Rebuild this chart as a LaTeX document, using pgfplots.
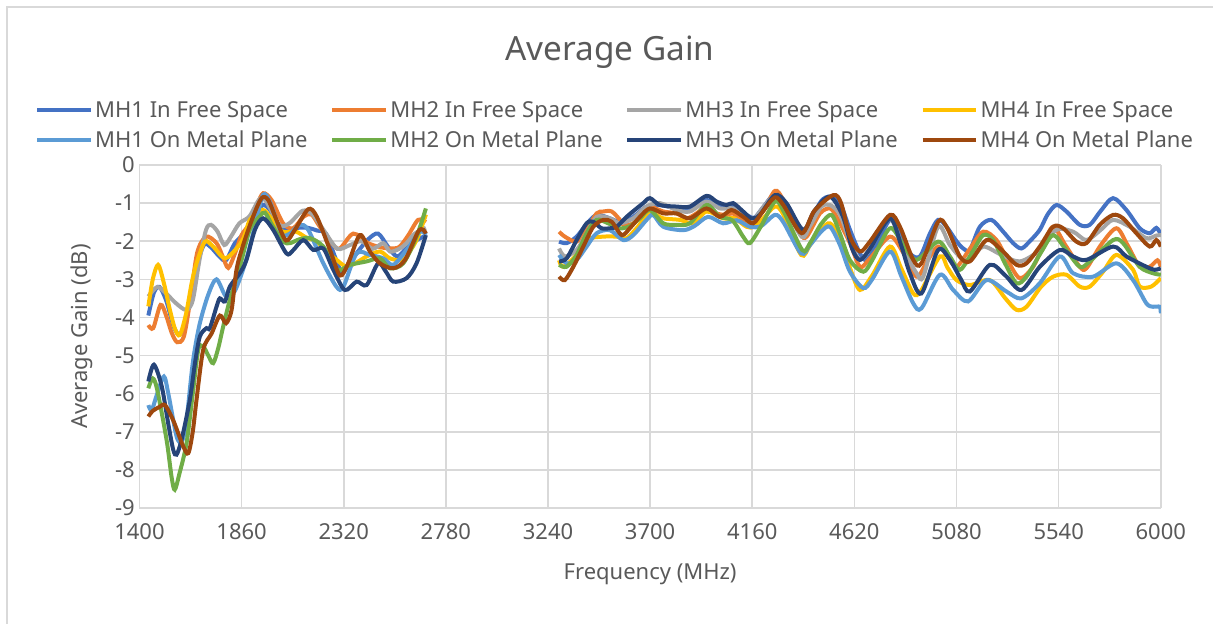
\documentclass[border=0pt]{standalone}
\usepackage{fontspec}
\setmainfont{Noto Sans}
\usepackage{pgfplots}
\pgfplotsset{compat=1.18}

\definecolor{txt}{HTML}{595959}
\definecolor{gridc}{HTML}{D9D9D9}
\definecolor{cA}{HTML}{4472C4}
\definecolor{cB}{HTML}{ED7D31}
\definecolor{cC}{HTML}{A5A5A5}
\definecolor{cD}{HTML}{FFC000}
\definecolor{cE}{HTML}{5B9BD5}
\definecolor{cF}{HTML}{70AD47}
\definecolor{cG}{HTML}{264478}
\definecolor{cH}{HTML}{9E480E}

\pgfplotsset{
  ser/.style={color=#1, line width=3pt, smooth, no marks},
}

\begin{document}
\begin{tikzpicture}[x=1pt,y=1pt]
\useasboundingbox (0,0) rectangle (909.75,468);
\draw[gridc, line width=1.2pt] (5.25,-5) -- (5.25,462.75) -- (915,462.75);
\node[txt, font=\fontsize{25}{30}\selectfont] at (457.5,429) {Average Gain};

\begin{axis}[
    at={(104.6pt,87pt)}, anchor=south west,
    scale only axis, width=766pt, height=257.25pt,
    xmin=1400, xmax=6000, ymin=-9, ymax=0,
    xtick={1400,1860,2320,2780,3240,3700,4160,4620,5080,5540,6000},
    xticklabels={1400,1860,2320,2780,3240,3700,4160,4620,5080,5540,6000},
    ytick={-9,-8,-7,-6,-5,-4,-3,-2,-1,0},
    yticklabels={-9,-8,-7,-6,-5,-4,-3,-2,-1,0},
    grid=major,
    major grid style={gridc, line width=1.2pt},
    axis line style={draw=none},
    tick style={draw=none},
    ticklabel style={font=\fontsize{16.5}{20}\selectfont, text=txt},
    xticklabel style={yshift=-8pt},
    xlabel={Frequency (MHz)},
    ylabel={Average Gain (dB)},
    label style={font=\fontsize{16.5}{20}\selectfont, text=txt},
    xlabel style={at={(axis description cs:0.5,-0.1924)}, anchor=center},
    ylabel style={at={(axis description cs:-0.0563,0.5)}, anchor=center},
    unbounded coords=jump,
    legend columns=4,
    legend style={at={(axis description cs:0.466,1.116)}, anchor=center,
        draw=none, fill=none, font=\fontsize{16.5}{20}\selectfont, text=txt,
        row sep=4.5pt,
        /tikz/every even column/.append style={column sep=15pt}},
    legend image code/.code={\draw[#1, line width=3pt] (0pt,0pt) -- (40pt,0pt);},
    legend cell align=left,
]

\addplot[ser=cA] coordinates {
(1440,-3.95)(1465,-3.35)(1490,-3.2)(1520,-3.55)(1555,-4.25)(1582,-4.45)(1610,-4.05)(1650,-2.8)(1690,-2.1)(1720,-2.15)(1760,-2.4)(1790,-2.5)(1830,-2.05)(1880,-1.75)(1920,-1.4)(1955,-1.05)(1990,-1.2)(2030,-1.6)(2070,-1.7)(2110,-1.65)(2160,-1.65)(2200,-1.72)(2240,-1.8)(2280,-2.4)(2310,-2.8)(2340,-2.65)(2380,-2.3)(2430,-1.95)(2475,-1.8)(2520,-2.15)(2560,-2.4)(2600,-2.2)(2640,-2.0)(2690,-1.85)
(3000,nan)
(3290,-2.01)(3324,-2.05)(3369,-1.88)(3414,-1.55)(3459,-1.31)(3519,-1.4)(3564,-1.49)(3624,-1.36)(3684,-1.09)(3744,-1.05)(3819,-1.14)(3879,-1.14)(3954,-0.92)(3999,-1.05)(4074,-1.09)(4134,-1.31)(4170,-1.38)(4210,-1.1)(4262,-0.75)(4300,-0.95)(4380,-1.75)(4420,-1.5)(4470,-0.95)(4510,-0.83)(4555,-1.0)(4600,-1.7)(4645,-2.32)(4675,-2.49)(4720,-2.1)(4780,-1.44)(4825,-1.8)(4870,-2.32)(4915,-2.4)(4960,-1.8)(4997,-1.44)(5035,-1.62)(5080,-2.0)(5110,-2.19)(5140,-2.23)(5185,-1.62)(5237,-1.44)(5290,-1.75)(5335,-2.05)(5372,-2.19)(5410,-2.0)(5455,-1.7)(5490,-1.3)(5530,-1.05)(5575,-1.22)(5635,-1.57)(5680,-1.57)(5730,-1.2)(5785,-0.87)(5845,-1.18)(5905,-1.66)(5950,-1.79)(5980,-1.65)(6000,-1.82)
};
\addlegendentry{MH1 In Free Space}

\addplot[ser=cB] coordinates {
(1440,-4.2)(1462,-4.28)(1495,-3.67)(1520,-3.95)(1545,-4.4)(1570,-4.65)(1600,-4.5)(1630,-3.5)(1660,-2.3)(1700,-1.88)(1747,-2.05)(1775,-2.4)(1800,-2.7)(1830,-2.32)(1860,-1.84)(1897,-1.53)(1930,-1.05)(1957,-0.74)(1995,-0.92)(2047,-1.53)(2092,-1.66)(2140,-1.35)(2175,-1.3)(2210,-1.6)(2260,-2.0)(2300,-2.2)(2363,-1.8)(2430,-2.05)(2480,-2.15)(2528,-2.19)(2570,-2.15)(2610,-1.85)(2655,-1.44)(2690,-1.5)
(3000,nan)
(3290,-1.75)(3316,-1.88)(3369,-2.01)(3414,-1.7)(3459,-1.27)(3489,-1.22)(3527,-1.22)(3564,-1.44)(3579,-1.57)(3624,-1.53)(3669,-1.22)(3699,-1.09)(3759,-1.22)(3819,-1.27)(3864,-1.4)(3909,-1.27)(3954,-1.09)(3999,-1.27)(4044,-1.31)(4074,-1.27)(4119,-1.49)(4150,-1.55)(4210,-1.2)(4262,-0.68)(4300,-0.92)(4375,-1.79)(4405,-1.88)(4465,-1.27)(4510,-1.14)(4540,-1.36)(4600,-2.05)(4645,-2.67)(4690,-2.45)(4780,-1.88)(4840,-2.3)(4900,-2.93)(4950,-2.5)(4997,-2.14)(5040,-2.4)(5080,-2.67)(5140,-2.2)(5200,-1.75)(5260,-1.97)(5310,-2.5)(5365,-2.97)(5425,-2.67)(5470,-2.1)(5515,-1.62)(5570,-2.1)(5635,-2.67)(5665,-2.71)(5730,-2.1)(5800,-1.66)(5850,-2.1)(5905,-2.67)(5950,-2.67)(5985,-2.5)(6000,-2.67)
};
\addlegendentry{MH2 In Free Space}

\addplot[ser=cC] coordinates {
(1440,-3.45)(1480,-3.2)(1520,-3.37)(1565,-3.63)(1610,-3.8)(1640,-3.55)(1670,-2.5)(1700,-1.7)(1722,-1.57)(1752,-1.75)(1782,-2.1)(1812,-1.88)(1850,-1.53)(1895,-1.35)(1940,-0.9)(1970,-0.95)(2030,-1.57)(2075,-1.53)(2135,-1.2)(2180,-1.3)(2240,-1.8)(2292,-2.2)(2348,-2.1)(2400,-2.0)(2450,-2.2)(2498,-2.05)(2528,-2.27)(2570,-2.2)(2603,-2.05)(2640,-1.8)(2690,-1.65)
(3000,nan)
(3290,-2.19)(3316,-2.4)(3369,-2.23)(3414,-1.79)(3459,-1.36)(3519,-1.4)(3564,-1.53)(3624,-1.4)(3684,-1.09)(3744,-1.0)(3819,-1.18)(3879,-1.22)(3954,-0.96)(4014,-1.14)(4074,-1.14)(4134,-1.36)(4170,-1.4)(4210,-1.1)(4262,-0.8)(4300,-1.0)(4382,-1.88)(4420,-1.6)(4470,-1.1)(4510,-1.05)(4555,-1.3)(4600,-2.0)(4645,-2.49)(4700,-2.1)(4780,-1.4)(4840,-2.2)(4900,-2.84)(4930,-2.93)(4997,-1.62)(5050,-2.1)(5110,-2.49)(5150,-2.45)(5200,-2.14)(5280,-2.35)(5365,-2.53)(5455,-2.23)(5530,-1.7)(5605,-1.75)(5665,-1.97)(5730,-1.7)(5785,-1.44)(5860,-1.62)(5935,-1.92)(5980,-1.85)(6000,-1.84)
};
\addlegendentry{MH3 In Free Space}

\addplot[ser=cD] coordinates {
(1440,-3.71)(1460,-3.0)(1484,-2.62)(1510,-3.1)(1537,-3.8)(1560,-4.3)(1582,-4.46)(1610,-3.9)(1635,-3.1)(1657,-2.58)(1695,-2.01)(1732,-2.14)(1785,-2.45)(1837,-2.19)(1870,-1.9)(1897,-1.44)(1942,-1.2)(1965,-1.2)(2000,-1.45)(2045,-1.75)(2105,-1.75)(2150,-1.9)(2198,-2.01)(2240,-2.25)(2288,-2.49)(2333,-2.67)(2380,-2.55)(2423,-2.4)(2483,-2.27)(2528,-2.45)(2588,-2.49)(2625,-2.2)(2655,-1.88)(2690,-1.3)
(3000,nan)
(3290,-2.5)(3309,-2.67)(3369,-2.36)(3420,-1.95)(3489,-1.88)(3549,-1.88)(3594,-1.92)(3639,-1.66)(3699,-1.27)(3759,-1.4)(3834,-1.44)(3894,-1.53)(3954,-1.22)(4029,-1.4)(4080,-1.4)(4134,-1.62)(4170,-1.62)(4210,-1.4)(4262,-1.09)(4300,-1.3)(4380,-2.36)(4420,-2.1)(4470,-1.7)(4510,-1.53)(4555,-1.9)(4600,-2.7)(4645,-3.28)(4700,-2.9)(4780,-2.14)(4830,-2.7)(4885,-3.37)(4920,-3.3)(5005,-2.4)(5040,-2.7)(5080,-3.02)(5140,-3.15)(5230,-3.02)(5300,-3.5)(5350,-3.8)(5395,-3.72)(5460,-3.2)(5515,-2.93)(5575,-2.88)(5635,-3.19)(5680,-3.19)(5740,-2.8)(5800,-2.36)(5875,-2.75)(5905,-3.19)(5957,-3.19)(6000,-2.97)
};
\addlegendentry{MH4 In Free Space}

\addplot[ser=cE] coordinates {
(1440,-6.3)(1455,-6.43)(1480,-6.0)(1510,-5.55)(1530,-6.0)(1567,-7.12)(1590,-7.25)(1610,-6.8)(1640,-5.2)(1670,-4.2)(1710,-3.4)(1747,-3.0)(1790,-3.45)(1830,-3.3)(1880,-2.5)(1920,-1.6)(1957,-0.78)(1990,-1.0)(2040,-1.8)(2078,-1.8)(2120,-1.57)(2160,-1.7)(2228,-2.58)(2288,-3.2)(2318,-3.2)(2378,-2.32)(2438,-2.36)(2498,-2.45)(2543,-2.62)(2603,-2.23)(2663,-1.75)(2690,-1.84)
(3000,nan)
(3290,-2.36)(3324,-2.58)(3369,-2.49)(3414,-2.14)(3459,-1.79)(3519,-1.71)(3579,-1.97)(3624,-1.84)(3684,-1.44)(3714,-1.31)(3759,-1.62)(3849,-1.71)(3900,-1.6)(3961,-1.36)(4029,-1.53)(4090,-1.45)(4149,-1.62)(4200,-1.6)(4262,-1.31)(4300,-1.5)(4380,-2.32)(4420,-2.1)(4470,-1.75)(4510,-1.62)(4555,-2.1)(4600,-2.8)(4660,-3.23)(4700,-3.0)(4780,-2.27)(4830,-2.9)(4885,-3.63)(4922,-3.76)(5005,-2.88)(5065,-3.28)(5132,-3.58)(5215,-3.02)(5305,-3.32)(5372,-3.5)(5455,-3.1)(5545,-2.4)(5605,-2.84)(5695,-2.93)(5800,-2.58)(5875,-3.02)(5935,-3.63)(5965,-3.72)(5995,-3.72)(6000,-3.89)
};
\addlegendentry{MH1 On Metal Plane}

\addplot[ser=cF] coordinates {
(1440,-5.86)(1460,-5.6)(1480,-5.9)(1522,-7.21)(1545,-8.2)(1559,-8.52)(1580,-8.1)(1612,-7.3)(1640,-6.0)(1665,-4.85)(1687,-4.76)(1710,-5.0)(1732,-5.2)(1755,-4.8)(1777,-4.24)(1807,-3.54)(1852,-2.67)(1897,-1.7)(1942,-1.35)(1965,-1.25)(2000,-1.6)(2047,-2.01)(2078,-2.05)(2120,-1.95)(2168,-1.92)(2228,-2.14)(2288,-2.75)(2348,-2.62)(2423,-2.53)(2483,-2.45)(2528,-2.71)(2588,-2.58)(2648,-1.88)(2690,-1.14)
(3000,nan)
(3290,-2.62)(3324,-2.67)(3369,-2.36)(3414,-1.79)(3459,-1.44)(3511,-1.53)(3564,-1.66)(3610,-1.6)(3654,-1.4)(3699,-1.18)(3759,-1.53)(3819,-1.57)(3879,-1.53)(3954,-1.05)(4014,-1.36)(4070,-1.45)(4119,-1.88)(4149,-2.05)(4200,-1.6)(4262,-0.96)(4300,-1.2)(4385,-2.23)(4420,-2.05)(4470,-1.55)(4517,-1.31)(4555,-1.8)(4600,-2.5)(4660,-2.8)(4700,-2.5)(4780,-1.66)(4840,-2.1)(4900,-2.49)(4997,-2.01)(5050,-2.4)(5095,-2.75)(5150,-2.3)(5200,-1.84)(5245,-1.97)(5300,-2.6)(5350,-3.1)(5395,-2.93)(5460,-2.3)(5515,-1.84)(5570,-2.2)(5635,-2.67)(5680,-2.53)(5785,-1.97)(5830,-2.05)(5905,-2.67)(5965,-2.84)(6000,-2.88)
};
\addlegendentry{MH2 On Metal Plane}

\addplot[ser=cG] coordinates {
(1440,-5.68)(1465,-5.24)(1500,-5.8)(1530,-6.8)(1552,-7.47)(1567,-7.6)(1590,-7.2)(1627,-6.16)(1650,-5.2)(1672,-4.5)(1702,-4.28)(1717,-4.28)(1747,-3.72)(1762,-3.5)(1785,-3.58)(1807,-3.19)(1852,-2.84)(1882,-2.49)(1920,-1.7)(1957,-1.4)(2002,-1.7)(2062,-2.32)(2090,-2.25)(2138,-1.97)(2183,-2.23)(2228,-2.19)(2273,-2.75)(2325,-3.28)(2378,-3.06)(2423,-3.15)(2475,-2.58)(2510,-2.8)(2543,-3.06)(2603,-2.97)(2648,-2.58)(2690,-1.84)
(3000,nan)
(3290,-2.53)(3324,-2.45)(3369,-1.97)(3414,-1.53)(3444,-1.49)(3481,-1.66)(3519,-1.66)(3549,-1.62)(3594,-1.36)(3639,-1.14)(3669,-1.0)(3699,-0.87)(3744,-1.05)(3819,-1.09)(3879,-1.09)(3954,-0.81)(3999,-0.96)(4044,-1.05)(4074,-1.0)(4119,-1.22)(4156,-1.4)(4194,-1.31)(4262,-0.79)(4314,-1.0)(4389,-1.7)(4440,-1.2)(4510,-0.83)(4569,-1.36)(4610,-2.2)(4645,-2.49)(4690,-2.2)(4780,-1.4)(4830,-2.1)(4870,-2.84)(4922,-3.37)(4997,-2.23)(5050,-2.49)(5100,-3.0)(5140,-3.32)(5230,-2.62)(5300,-2.9)(5372,-3.28)(5455,-2.67)(5545,-2.23)(5605,-2.4)(5665,-2.49)(5785,-2.14)(5845,-2.4)(5935,-2.67)(5972,-2.75)(6000,-2.71)
};
\addlegendentry{MH3 On Metal Plane}

\addplot[ser=cH] coordinates {
(1440,-6.6)(1460,-6.45)(1490,-6.35)(1515,-6.3)(1552,-6.7)(1597,-7.38)(1620,-7.56)(1640,-7.0)(1657,-6.16)(1687,-4.85)(1725,-4.42)(1762,-3.95)(1790,-4.15)(1815,-3.8)(1837,-2.75)(1867,-2.1)(1912,-1.35)(1950,-0.87)(1980,-0.92)(2017,-1.44)(2060,-1.98)(2100,-1.7)(2160,-1.16)(2198,-1.35)(2258,-2.23)(2303,-2.9)(2340,-2.58)(2393,-1.84)(2438,-2.27)(2483,-2.58)(2543,-2.71)(2596,-2.49)(2655,-1.75)(2678,-1.7)(2690,-1.8)
(3000,nan)
(3290,-2.93)(3316,-3.02)(3354,-2.67)(3399,-2.14)(3444,-1.62)(3489,-1.44)(3527,-1.49)(3572,-1.84)(3610,-1.65)(3654,-1.36)(3699,-1.14)(3759,-1.27)(3819,-1.27)(3879,-1.4)(3954,-1.14)(4014,-1.36)(4066,-1.18)(4119,-1.36)(4164,-1.53)(4210,-1.2)(4262,-0.85)(4300,-1.05)(4382,-1.79)(4440,-1.2)(4525,-0.79)(4560,-1.0)(4600,-1.88)(4645,-2.27)(4690,-2.01)(4780,-1.31)(4825,-1.62)(4885,-2.49)(4922,-2.58)(4997,-1.49)(5035,-1.62)(5095,-2.4)(5140,-2.53)(5200,-2.05)(5230,-1.97)(5290,-2.27)(5350,-2.62)(5395,-2.58)(5455,-2.14)(5515,-1.62)(5560,-1.66)(5620,-2.01)(5665,-2.05)(5725,-1.57)(5785,-1.31)(5830,-1.4)(5890,-1.79)(5950,-2.14)(5980,-1.97)(6000,-2.14)
};
\addlegendentry{MH4 On Metal Plane}

\end{axis}
\end{tikzpicture}
\end{document}
